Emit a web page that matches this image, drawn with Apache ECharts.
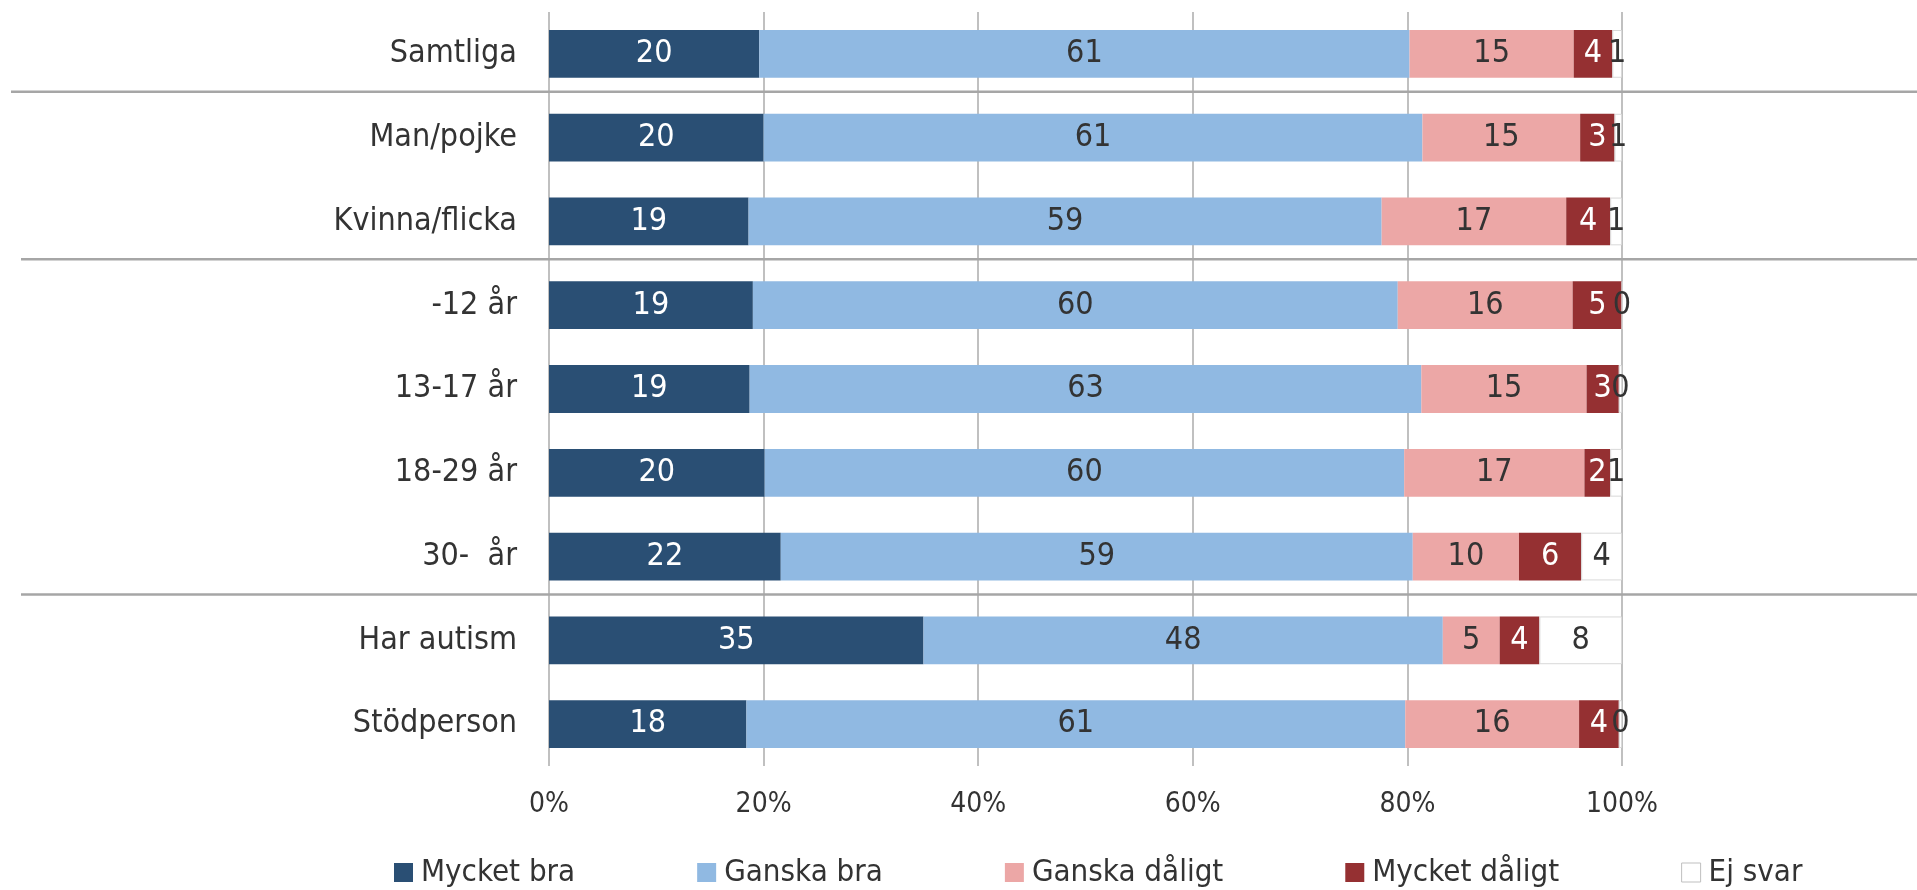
<!DOCTYPE html>
<html>
<head>
<meta charset="UTF-8">
<title>Stapeldiagram</title>
<script type="text/javascript" src="https://cdn.jsdelivr.net/npm/echarts@6/dist/echarts.min.js"></script>
<style>
	html, body { margin: 0; padding: 0; background: #fff; }
	#div { width: 1917px; height: 890px; }
</style>
</head>
<body>
	<div id="div"></div>

	<script type="text/javascript">
		// data (percent of each row)
		var categories = [ 'Samtliga', 'Man/pojke', 'Kvinna/flicka', '-12 år', '13-17 år', '18-29 år', '30-  år', 'Har autism', 'Stödperson' ];
		var mycketBra   = [ 19.6, 20.0, 18.6, 19.0, 18.7, 20.1, 21.6, 34.9, 18.4 ];
		var ganskaBra   = [ 60.6, 61.4, 59.0, 60.1, 62.6, 59.6, 58.9, 48.4, 61.4 ];
		var ganskaDalig = [ 15.3, 14.7, 17.2, 16.3, 15.4, 16.8, 9.9, 5.3, 16.2 ];
		var mycketDalig = [ 3.6, 3.2, 4.1, 4.6, 3.0, 2.4, 5.8, 3.7, 3.7 ];
		var ejSvar      = [ 0.9, 0.7, 1.1, 0.0, 0.3, 1.1, 3.8, 7.7, 0.3 ];
		var xTicks = [ 0, 20, 40, 60, 80, 100 ];
		// separators drawn above these rows
		var groupBreaks = [ 1, 3, 7 ];

		var font = '"Liberation Sans Narrow", "DejaVu Sans Condensed", "Noto Sans", sans-serif';
		var textCol = '#333333';

		function mkSeries(name, data, color, labelColor, border) {
			return {
				name : name,
				type : 'bar',
				stack : 'all',
				data : data,
				barWidth : '57%',
				itemStyle : {
					color : color,
					borderColor : border ? '#d9d9d9' : color,
					borderWidth : border ? 1 : 0
				},
				label : {
					show : true,
					position : 'inside',
					color : labelColor,
					fontFamily : font,
					fontSize : 32,
					formatter : function(p) {
						return Math.round(p.value);
					}
				}
			};
		}

		var mychart = echarts.init(document.getElementById('div'));
		var option = {
			animation : false,
			textStyle : { fontFamily : font },
			grid : {
				left : 549,
				right : 295,
				top : 12,
				bottom : 124
			},
			legend : {
				left : 389,
				top : 852,
				itemWidth : 19,
				itemHeight : 19,
				itemGap : 122,
				icon : 'rect',
				textStyle : {
					color : textCol,
					fontFamily : font,
					fontSize : 31,
					padding : [ 0, 0, 0, 3 ]
				},
				data : [ 'Mycket bra', 'Ganska bra', 'Ganska dåligt', 'Mycket dåligt', {
					name : 'Ej svar',
					itemStyle : { color : '#ffffff', borderColor : '#bfbfbf', borderWidth : 1 }
				} ]
			},
			xAxis : {
				type : 'value',
				min : xTicks[0],
				max : xTicks[xTicks.length - 1],
				interval : xTicks[1] - xTicks[0],
				axisLine : { show : false },
				axisTick : { show : false },
				splitLine : { lineStyle : { color : '#c0c0c0', width : 2 } },
				axisLabel : {
					color : textCol,
					fontFamily : font,
					fontSize : 28,
					margin : 25,
					formatter : '{value}%'
				}
			},
			yAxis : {
				type : 'category',
				inverse : true,
				data : categories,
				axisLine : { show : false },
				axisTick : { show : false },
				axisLabel : {
					color : textCol,
					fontFamily : font,
					fontSize : 32,
					margin : 32
				}
			},
			series : [
				mkSeries('Mycket bra', mycketBra, '#2a4f74', '#ffffff'),
				mkSeries('Ganska bra', ganskaBra, '#90b9e2', textCol),
				mkSeries('Ganska dåligt', ganskaDalig, '#eca7a6', textCol),
				mkSeries('Mycket dåligt', mycketDalig, '#953032', '#ffffff'),
				mkSeries('Ej svar', ejSvar, '#ffffff', textCol, true)
			]
		};
		mychart.setOption(option);

		// horizontal group separators between rows
		var lines = [];
		for (var i = 0; i < groupBreaks.length; i++) {
			var a = mychart.convertToPixel({ yAxisIndex : 0 }, groupBreaks[i] - 1);
			var b = mychart.convertToPixel({ yAxisIndex : 0 }, groupBreaks[i]);
			var y = (a + b) / 2 - 4;
			lines.push({
				type : 'line',
				z : 10,
				shape : { x1 : i == 0 ? 11 : 21, y1 : y, x2 : 1917, y2 : y },
				style : { stroke : '#a6a6a6', lineWidth : 2.5 }
			});
		}
		mychart.setOption({ graphic : lines });
	</script>
</body>
</html>
